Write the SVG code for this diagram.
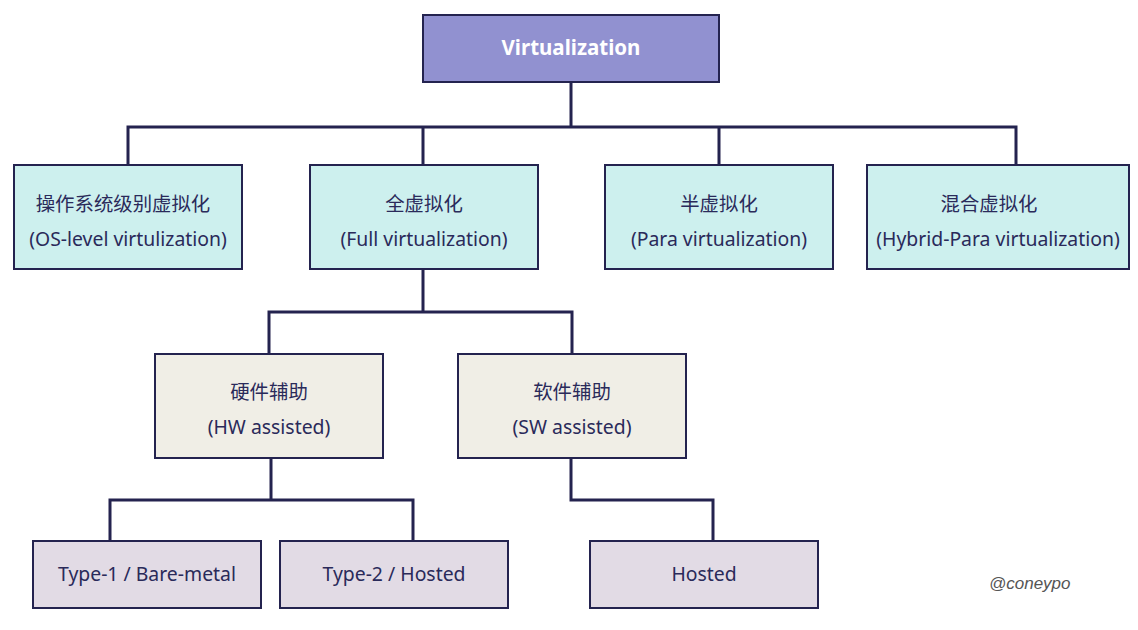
<svg xmlns="http://www.w3.org/2000/svg" width="1138" height="630" viewBox="0 0 1138 630">
<style>
.box{stroke:#24234f;stroke-width:2}
.root{fill:#9191d0}
.l2{fill:#cdf0ee}
.l3{fill:#f0eee6}
.l4{fill:#e2dbe5}
.t{font-family:"Noto Sans","Noto Sans CJK SC",sans-serif;font-size:19.4px;fill:#2a2a5a;text-anchor:middle}
.title{font-family:"Noto Sans",sans-serif;font-size:20.5px;font-weight:bold;fill:#ffffff;text-anchor:middle}
.conn{fill:none;stroke:#24234f;stroke-width:3}
.wm{font-family:"Liberation Sans",sans-serif;font-style:italic;font-size:17px;fill:#555555}
</style>
<rect width="1138" height="630" fill="#ffffff"/>
<g id="connectors" class="conn">
<path d="M571 82 V127 M128 165 V127 H1016 V165 M423 127 V165 M719 127 V165"/>
<path d="M423 269 V312 M269 354 V312 H572 V354"/>
<path d="M271 458 V500 M110 541 V500 H413 V541"/>
<path d="M571 458 V500 H713 V541"/>
</g>
<g id="virtualization">
<rect class="box root" x="423" y="15" width="296" height="67"/>
<text class="title" x="571" y="55">Virtualization</text>
</g>
<g id="os-level">
<rect class="box l2" x="14" y="165" width="228" height="104"/>
<text class="t" x="123" y="211">操作系统级别虚拟化</text>
<text class="t" x="128" y="246">(OS-level virtulization)</text>
</g>
<g id="full">
<rect class="box l2" x="310" y="165" width="228" height="104"/>
<text class="t" x="424" y="211">全虚拟化</text>
<text class="t" x="424" y="246">(Full virtualization)</text>
</g>
<g id="para">
<rect class="box l2" x="605" y="165" width="228" height="104"/>
<text class="t" x="719" y="211">半虚拟化</text>
<text class="t" x="719" y="246">(Para virtualization)</text>
</g>
<g id="hybrid">
<rect class="box l2" x="867" y="165" width="262" height="104"/>
<text class="t" x="989" y="211">混合虚拟化</text>
<text class="t" x="998" y="246">(Hybrid-Para virtualization)</text>
</g>
<g id="hw">
<rect class="box l3" x="155" y="354" width="228" height="104"/>
<text class="t" x="269" y="399">硬件辅助</text>
<text class="t" x="269" y="434">(HW assisted)</text>
</g>
<g id="sw">
<rect class="box l3" x="458" y="354" width="228" height="104"/>
<text class="t" x="572" y="399">软件辅助</text>
<text class="t" x="572" y="434">(SW assisted)</text>
</g>
<g id="type1">
<rect class="box l4" x="33" y="541" width="228" height="67"/>
<text class="t" x="147" y="581">Type-1 / Bare-metal</text>
</g>
<g id="type2">
<rect class="box l4" x="280" y="541" width="228" height="67"/>
<text class="t" x="394" y="581">Type-2 / Hosted</text>
</g>
<g id="hosted">
<rect class="box l4" x="590" y="541" width="228" height="67"/>
<text class="t" x="704" y="581">Hosted</text>
</g>
<text class="wm" x="989" y="589">@coneypo</text>
</svg>
